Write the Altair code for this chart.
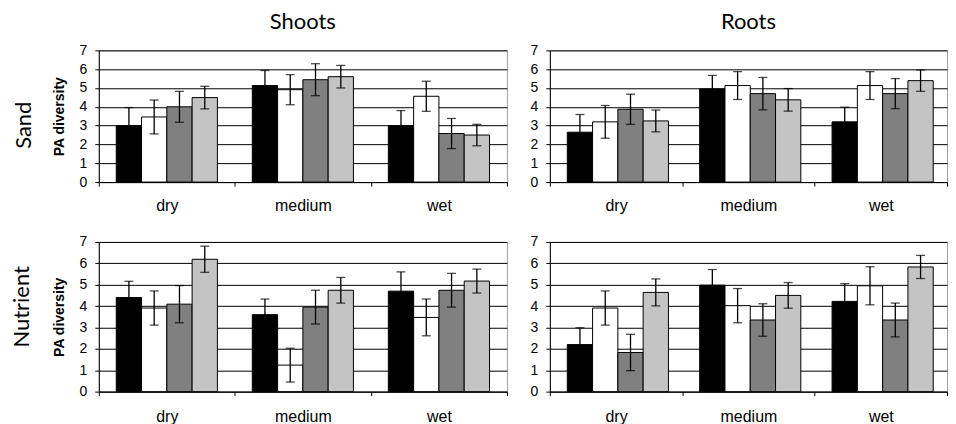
import altair as alt
import pandas as pd

conditions = ["dry", "medium", "wet"]
series = ["T1", "T2", "T3", "T4"]
colors = ["#000000", "#ffffff", "#808080", "#c4c4c4"]
y_ticks = [0, 1, 2, 3, 4, 5, 6, 7]

shoots_sand_mean = [3.0, 3.46, 4.0, 4.49, 5.13, 4.91, 5.44, 5.6, 3.0, 4.56, 2.58, 2.5]
shoots_sand_err = [0.96, 0.9, 0.82, 0.6, 0.8, 0.8, 0.85, 0.6, 0.8, 0.8, 0.8, 0.57]
roots_sand_mean = [2.65, 3.2, 3.87, 3.25, 4.95, 5.13, 4.7, 4.37, 3.2, 5.13, 4.7, 5.39]
roots_sand_err = [0.94, 0.87, 0.8, 0.58, 0.72, 0.74, 0.86, 0.6, 0.78, 0.74, 0.8, 0.57]
shoots_nut_mean = [4.4, 3.91, 4.09, 6.19, 3.6, 1.24, 3.95, 4.74, 4.7, 3.47, 4.74, 5.17]
shoots_nut_err = [0.76, 0.8, 0.87, 0.61, 0.73, 0.79, 0.79, 0.6, 0.9, 0.86, 0.79, 0.56]
roots_nut_mean = [2.2, 3.91, 1.83, 4.64, 4.98, 4.02, 3.35, 4.5, 4.22, 4.95, 3.35, 5.83]
roots_nut_err = [0.79, 0.8, 0.85, 0.63, 0.73, 0.8, 0.76, 0.6, 0.83, 0.89, 0.79, 0.54]

LABEL_FONT = "Liberation Sans"
TITLE_FONT = "Lato"


def make_df(mean, err):
    rows = []
    i = 0
    for c in conditions:
        for s in series:
            rows.append({"condition": c, "series": s, "mean": mean[i],
                         "lo": mean[i] - err[i], "hi": mean[i] + err[i]})
            i += 1
    return pd.DataFrame(rows)


def make_panel(mean, err, width, height, ytitle, col_title=None, row_label=None,
               row_xy=(0, 0), label_pad=14):
    df = make_df(mean, err)
    x = alt.X("condition:N", sort=conditions,
              scale=alt.Scale(paddingInner=0, paddingOuter=0),
              axis=alt.Axis(title=None, tickBand="extent", labelAngle=0,
                            labelFont=LABEL_FONT, labelFontSize=16,
                            labelColor="#000", domainColor="#000",
                            tickColor="#000", tickSize=4,
                            labelPadding=label_pad))
    xo = alt.XOffset("series:N", sort=series,
                     scale=alt.Scale(paddingInner=0, paddingOuter=0.69))
    yaxis = alt.Axis(values=y_ticks, tickCount=len(y_ticks) + 2, format="d",
                     grid=True, gridColor="#000", gridWidth=1, gridOpacity=1,
                     labelOverlap=False,
                     labelFont=LABEL_FONT, labelFontSize=14,
                     labelColor="#000", domainColor="#000",
                     tickColor="#000", tickSize=4, labelPadding=8,
                     title=ytitle if ytitle else None,
                     titleFont=LABEL_FONT, titleFontSize=14,
                     titleFontWeight="bold", titleColor="#000",
                     titlePadding=13)
    yscale = alt.Scale(domain=[0, 7], nice=False)
    base = alt.Chart(df)
    bars = base.mark_bar(stroke="#000", strokeWidth=1).encode(
        x=x, xOffset=xo, y=alt.Y("mean:Q", scale=yscale, axis=yaxis),
        color=alt.Color("series:N", sort=series,
                        scale=alt.Scale(domain=series, range=colors),
                        legend=None))
    rule = base.mark_rule(color="#000", strokeWidth=1.3).encode(
        x=x, xOffset=xo, y=alt.Y("lo:Q", scale=yscale, axis=yaxis), y2="hi:Q")
    cap_lo = base.mark_tick(color="#000", size=9, thickness=1.3,
                            orient="horizontal").encode(
        x=x, xOffset=xo, y=alt.Y("lo:Q", scale=yscale, axis=yaxis))
    cap_hi = base.mark_tick(color="#000", size=9, thickness=1.3,
                            orient="horizontal").encode(
        x=x, xOffset=xo, y=alt.Y("hi:Q", scale=yscale, axis=yaxis))
    layers = [bars, rule, cap_lo, cap_hi]
    if col_title:
        t = alt.Chart(pd.DataFrame({"t": [col_title]})).mark_text(
            font=TITLE_FONT, fontSize=22, color="#000", align="center",
            baseline="alphabetic").encode(
            text="t:N", x=alt.value(width / 2), y=alt.value(-21))
        layers.append(t)
    if row_label:
        r = alt.Chart(pd.DataFrame({"t": [row_label]})).mark_text(
            font=TITLE_FONT, fontSize=22, color="#000", align="center",
            baseline="middle", angle=270).encode(
            text="t:N", x=alt.value(row_xy[0]), y=alt.value(row_xy[1]))
        layers.append(r)
    return alt.layer(*layers).properties(width=width, height=height)


p11 = make_panel(shoots_sand_mean, shoots_sand_err, 409, 132, "PA diversity",
                 col_title="Shoots", row_label="Sand", row_xy=(-75, 75), label_pad=11)
p12 = make_panel(roots_sand_mean, roots_sand_err, 398, 132, None,
                 col_title="Roots", label_pad=11)
p21 = make_panel(shoots_nut_mean, shoots_nut_err, 409, 150, "PA diversity",
                 row_label="Nutrient", row_xy=(-77, 65), label_pad=13)
p22 = make_panel(roots_nut_mean, roots_nut_err, 398, 150, None, label_pad=13)

row1 = alt.hconcat(p11, p12, spacing=43, bounds="flush")
row2 = alt.hconcat(p21, p22, spacing=43, bounds="flush")

chart = alt.vconcat(row1, row2, spacing=20).properties(
    padding={"left": 2, "top": 2, "right": 0, "bottom": 0}
).configure_view(stroke="#a0a0a0", strokeWidth=1)

chart.save("out.html", embed_options={"renderer": "svg", "actions": False})
